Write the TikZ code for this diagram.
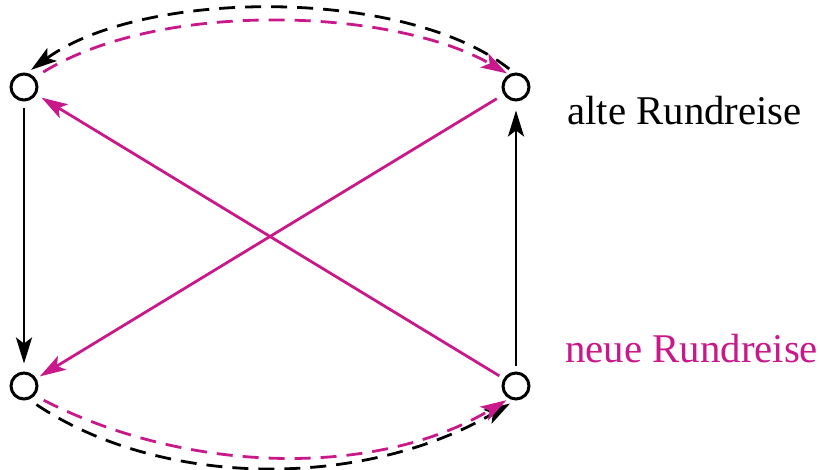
\documentclass[tikz,border=0pt]{standalone}
\usepackage{fontspec}
\setmainfont{Liberation Serif}
\definecolor{tourpink}{RGB}{200,24,138}
\usetikzlibrary{arrows.meta}

\begin{document}
\begin{tikzpicture}[
        x=0.5pt, y=0.5pt,
        every node/.style={font=\fontsize{20.4}{24}\selectfont},
        city/.style={draw, circle, line width=1.5pt, minimum size=13pt, inner sep=0pt},
        tour/.style={line width=1.4pt, -{Stealth[length=13pt, width=8pt, inset=3pt]}},
        dashtour/.style={tour, dash pattern=on 8pt off 5pt},
        newtour/.style={tourpink}
      ]
      \useasboundingbox (0,0) rectangle (820,470);
      \node[city] (tl) at (24,383) {};
      \node[city] (tr) at (516,383) {};
      \node[city] (bl) at (24,84) {};
      \node[city] (br) at (516,84) {};
      \node[anchor=base west, inner sep=0pt] (oldlabel) at (567,345) {alte Rundreise};
      \node[anchor=base west, inner sep=0pt, text=tourpink] (newlabel) at (565,107) {neue Rundreise};

      \draw[tour, shorten <=3.5pt, shorten >=4pt] (tl) -- (bl);
      \draw[tour, shorten <=2.5pt, shorten >=4.5pt] (br) -- (tr);
      \draw[dashtour, shorten <=3pt, shorten >=2.5pt] (tr.98) .. controls +(-110,86) and +(115,84) .. (tl.78);
      \draw[dashtour, shorten <=4.5pt, shorten >=3pt] (bl.-70) .. controls +(135,-90) and +(-150,-88) .. (br.-93);

      \draw[tour, newtour, shorten <=4pt, shorten >=2pt] (tr) -- (bl);
      \draw[tour, newtour, shorten <=2.5pt, shorten >=3pt] (br) -- (tl);
      \draw[dashtour, newtour, shorten <=5pt, shorten >=1pt] (tl.42) .. controls +(127,78) and +(-115,66) .. (tr.120);
      \draw[dashtour, newtour, shorten <=5pt, shorten >=1.5pt] (bl.-42) .. controls +(157,-80) and +(-130,-78) .. (br.-119);
    \end{tikzpicture}
\end{document}
